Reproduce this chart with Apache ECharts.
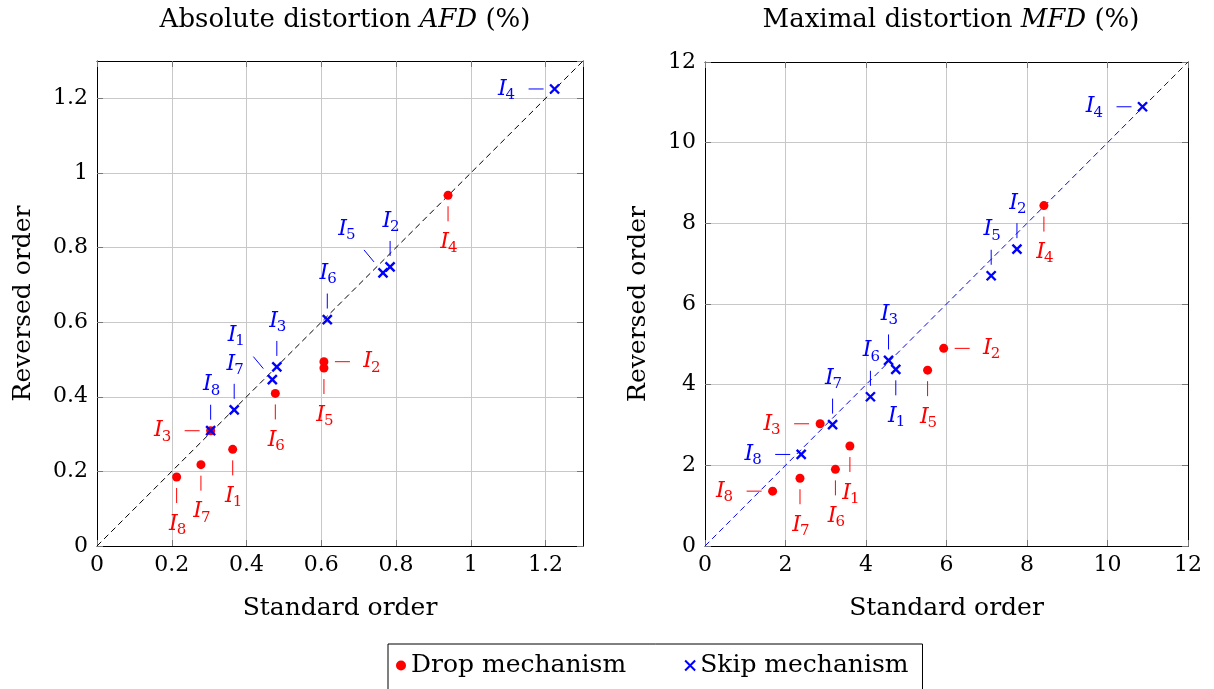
<!DOCTYPE html>
<html><head><meta charset="utf-8">
<script src="https://cdn.jsdelivr.net/npm/echarts@6/dist/echarts.min.js"></script>
<style>html,body{margin:0;padding:0;background:#fff}#c{width:1214px;height:689px}</style>
</head><body><div id="c"></div>
<script>
// ---- data ----
const instanceSubs = ['1','2','3','4','5','6','7','8'];
const afdTicks = {min:0, max:1.3, interval:0.2};
const mfdTicks = {min:0, max:12, interval:2};

const afdDropStd = [0.363,0.607,0.304,0.939,0.607,0.477,0.278,0.213];
const afdDropRev = [0.259,0.494,0.309,0.940,0.477,0.409,0.218,0.185];
const afdSkipStd = [0.469,0.784,0.481,1.224,0.765,0.616,0.367,0.304];
const afdSkipRev = [0.446,0.748,0.480,1.225,0.732,0.607,0.365,0.309];
const afdDiagonal = [[0,0],[1.3,1.3]];

const mfdDropStd = [3.60,5.93,2.86,8.42,5.53,3.24,2.36,1.68];
const mfdDropRev = [2.48,4.90,3.03,8.44,4.36,1.90,1.68,1.36];
const mfdSkipStd = [4.74,7.75,4.56,10.87,7.11,4.11,3.17,2.39];
const mfdSkipRev = [4.38,7.36,4.60,10.89,6.70,3.70,3.01,2.27];
const mfdDiagonal = [[0,0],[12,12]];

// label placement (style)
const afdDropSide = ['below','right','left','below','below','below','below','below'];
const afdSkipSide = ['upleft','above','above','left','upleft','above','above','above'];
const mfdDropSide = ['below','right','left','below','below','below','below','left'];
const mfdSkipSide = ['below','above','above','left','above','above','above','left'];

// ---- helpers ----
const FONT = '"DejaVu Serif", serif';
const RED = '#ff0000', BLUE = '#0000ff';
const OFF = {
  below: {l:[0,11,0,26], t:[0,47]},
  above: {l:[0,-11,0,-26], t:[0,-46]},
  left:  {l:[-11,0,-26,0], t:[-49,0]},
  right: {l:[11,0,26,0], t:[47,0]},
  upleft:{l:[-9,-11,-19,-23], t:[-37,-44]}
};
function pairs(xs, ys){ return xs.map((x,i)=>[x, ys[i]]); }
function labelRender(sides, color){
  return function(params, api){
    const p = api.coord([api.value(0), api.value(1)]);
    const o = OFF[sides[params.dataIndex]];
    const cx = p[0]+o.t[0], cy = p[1]+o.t[1];
    return {type:'group', children:[
      {type:'line', shape:{x1:p[0]+o.l[0], y1:p[1]+o.l[1], x2:p[0]+o.l[2], y2:p[1]+o.l[3]},
       style:{stroke:color, lineWidth:1}},
      {type:'text', style:{text:'I', x:cx+1, y:cy, align:'right', verticalAlign:'middle',
       fill:color, font:'italic 22px ' + FONT}},
      {type:'text', style:{text:instanceSubs[params.dataIndex], x:cx, y:cy+6, align:'left',
       verticalAlign:'middle', fill:color, font:'15px ' + FONT}}
    ]};
  };
}
function xAx(grid, t, main, name, hideMax){
  return {type:'value', gridIndex:grid, min:t.min, max:t.max, interval:t.interval,
    position: main ? 'bottom' : 'top',
    name: main ? name : '', nameLocation:'middle', nameGap:50,
    nameTextStyle:{fontFamily:FONT, fontSize:25, color:'#000'},
    axisLine:{show:true, onZero:false, lineStyle:{color:'#000', width:1}},
    axisTick:{show:true, inside:true, length:6, lineStyle:{color:'#777'}},
    axisLabel:{show:main, color:'#000', fontFamily:FONT, fontSize:22, margin:8, showMaxLabel: !hideMax},
    splitLine:{show:main, lineStyle:{color:'#c8c8c8', width:1}}
  };
}
function yAx(grid, t, main, name, hideMax, gap){
  return {type:'value', gridIndex:grid, min:t.min, max:t.max, interval:t.interval,
    position: main ? 'left' : 'right',
    name: main ? name : '', nameLocation:'middle', nameGap:gap,
    nameTextStyle:{fontFamily:FONT, fontSize:25, color:'#000'},
    axisLine:{show:true, onZero:false, lineStyle:{color:'#000', width:1}},
    axisTick:{show:true, inside:true, length:6, lineStyle:{color:'#777'}},
    axisLabel:{show:main, color:'#000', fontFamily:FONT, fontSize:22, margin:9, showMaxLabel: !hideMax},
    splitLine:{show:main, lineStyle:{color:'#c8c8c8', width:1}}
  };
}
const crossPath = 'path://M0,0L10,10M10,0L0,10';
function dropSeries(g, xs, ys){
  return {name:'Drop mechanism', type:'scatter', xAxisIndex:g, yAxisIndex:g,
    data:pairs(xs,ys), symbol:'circle', symbolSize:9, itemStyle:{color:RED, opacity:1}, z:5};
}
function skipSeries(g, xs, ys){
  return {name:'Skip mechanism', type:'scatter', xAxisIndex:g, yAxisIndex:g,
    data:pairs(xs,ys), symbol:crossPath, symbolSize:9,
    itemStyle:{color:BLUE, borderColor:BLUE, borderWidth:2.4, opacity:1}, z:6};
}
function labelSeries(g, xs, ys, sides, color){
  return {type:'custom', xAxisIndex:g, yAxisIndex:g, data:pairs(xs,ys), silent:true, z:7,
    renderItem: labelRender(sides, color)};
}
function diagSeries(g, d, color){
  return {type:'line', xAxisIndex:g, yAxisIndex:g, data:d, symbol:'none', silent:true, z:3,
    lineStyle:{color:color, width:1, type:[6,4]}};
}
const titleRich = {
  n:{fontFamily:FONT, fontSize:26, color:'#000', fontWeight:'normal'},
  i:{fontFamily:FONT, fontSize:26, color:'#000', fontStyle:'italic', fontWeight:'normal'}
};

const chart = echarts.init(document.getElementById('c'), null, {renderer:'canvas'});
chart.setOption({
  animation:false,
  backgroundColor:'#fff',
  title:[
    {text:'{n|Absolute distortion }{i|AFD}{n| (%)}', left:340, top:2, textAlign:'center',
     textStyle:{rich:titleRich}},
    {text:'{n|Maximal distortion }{i|MFD}{n| (%)}', left:946, top:2, textAlign:'center',
     textStyle:{rich:titleRich}}
  ],
  grid:[
    {left:97, top:61, width:486, height:485, outerBoundsMode:'none', containLabel:false},
    {left:705, top:62, width:483, height:484, outerBoundsMode:'none', containLabel:false}
  ],
  xAxis:[xAx(0,afdTicks,true,'Standard order',true), xAx(1,mfdTicks,true,'Standard order',false),
         xAx(0,afdTicks,false,'',true), xAx(1,mfdTicks,false,'',false)],
  yAxis:[yAx(0,afdTicks,true,'Reversed order',true,61), yAx(1,mfdTicks,true,'Reversed order',false,54),
         yAx(0,afdTicks,false,'',true,0), yAx(1,mfdTicks,false,'',false,0)],
  legend:{
    data:['Drop mechanism','Skip mechanism'], left:388, top:644, orient:'horizontal',
    borderColor:'#000', borderWidth:1, borderRadius:0, padding:[9,14,14,8], itemGap:58,
    itemWidth:10, itemHeight:10, backgroundColor:'#fff',
    textStyle:{fontFamily:FONT, fontSize:25, color:'#000'}
  },
  series:[
    diagSeries(0, afdDiagonal, '#000'),
    dropSeries(0, afdDropStd, afdDropRev),
    skipSeries(0, afdSkipStd, afdSkipRev),
    labelSeries(0, afdDropStd, afdDropRev, afdDropSide, RED),
    labelSeries(0, afdSkipStd, afdSkipRev, afdSkipSide, BLUE),
    diagSeries(1, mfdDiagonal, BLUE),
    dropSeries(1, mfdDropStd, mfdDropRev),
    skipSeries(1, mfdSkipStd, mfdSkipRev),
    labelSeries(1, mfdDropStd, mfdDropRev, mfdDropSide, RED),
    labelSeries(1, mfdSkipStd, mfdSkipRev, mfdSkipSide, BLUE)
  ]
});
</script></body></html>
